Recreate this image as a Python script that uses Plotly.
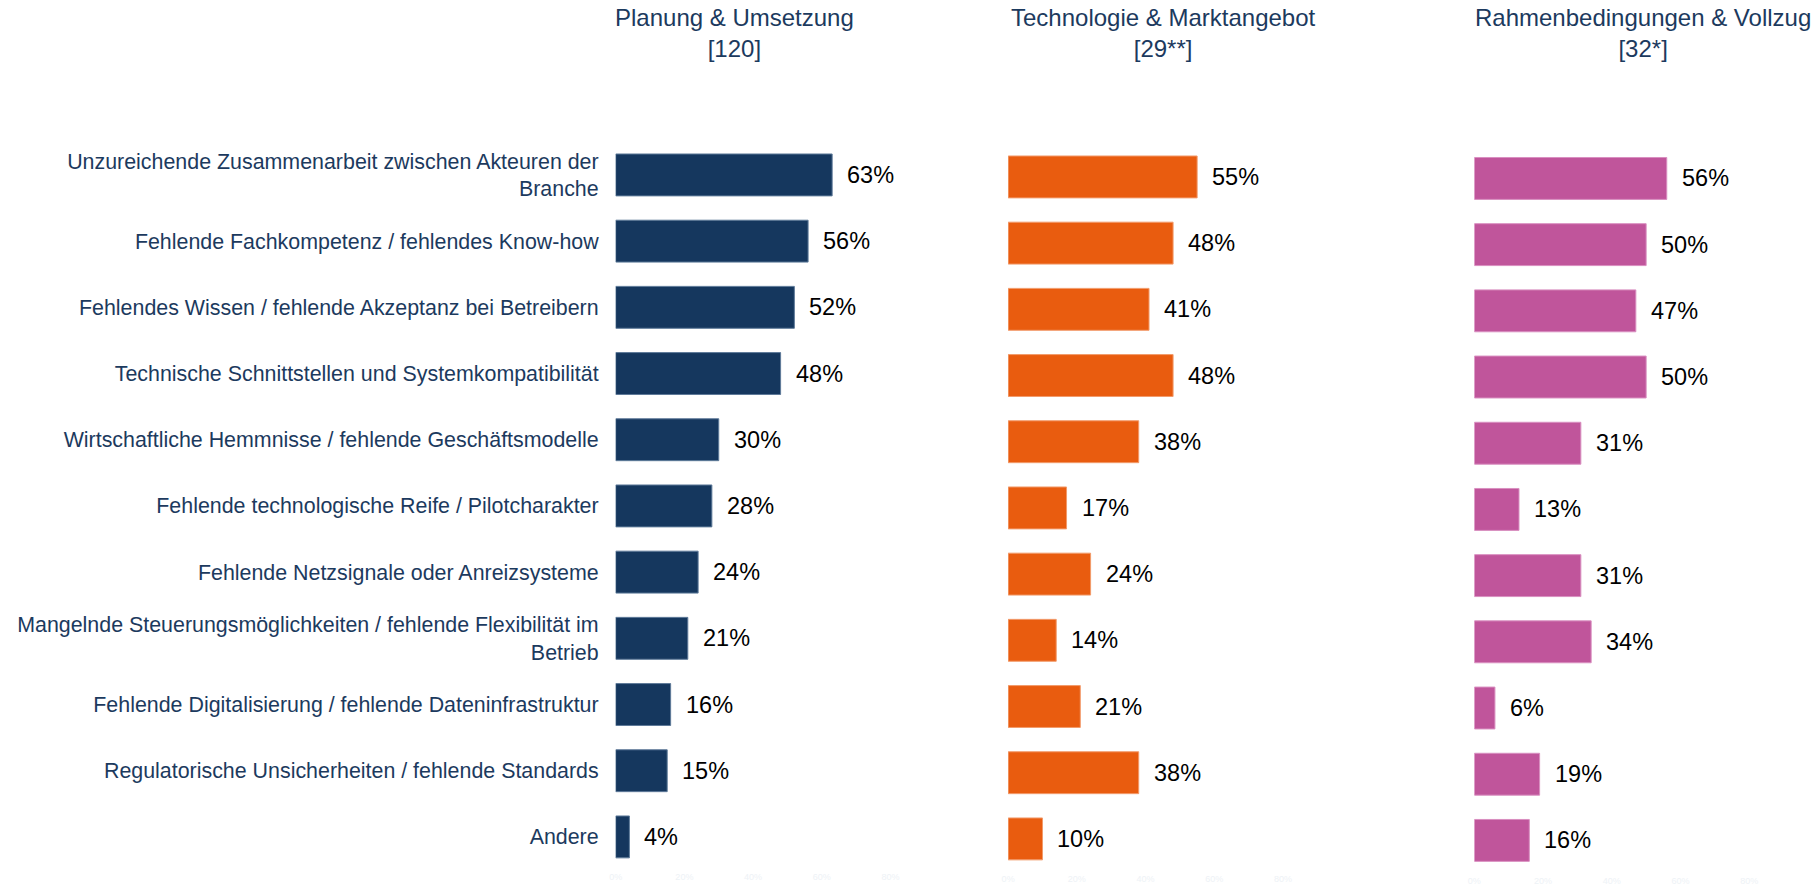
import plotly.graph_objects as go

categories = [
    "Unzureichende Zusammenarbeit zwischen Akteuren der<br>Branche",
    "Fehlende Fachkompetenz / fehlendes Know-how",
    "Fehlendes Wissen / fehlende Akzeptanz bei Betreibern",
    "Technische Schnittstellen und Systemkompatibilität",
    "Wirtschaftliche Hemmnisse / fehlende Geschäftsmodelle",
    "Fehlende technologische Reife / Pilotcharakter",
    "Fehlende Netzsignale oder Anreizsysteme",
    "Mangelnde Steuerungsmöglichkeiten / fehlende Flexibilität im<br>Betrieb",
    "Fehlende Digitalisierung / fehlende Dateninfrastruktur",
    "Regulatorische Unsicherheiten / fehlende Standards",
    "Andere",
]

panel_titles = [
    "Planung & Umsetzung<br>[120]",
    "Technologie & Marktangebot<br>[29**]",
    "Rahmenbedingungen & Vollzug<br>[32*]",
]

planung = [63, 56, 52, 48, 30, 28, 24, 21, 16, 15, 4]
technologie = [55, 48, 41, 48, 38, 17, 24, 14, 21, 38, 10]
rahmen = [56, 50, 47, 50, 31, 13, 31, 34, 6, 19, 16]

series = [planung, technologie, rahmen]
colors = ["#15375E", "#E95C0F", "#C0559B"]
edge_colors = ["#5E7A99", "#F29B6B", "#D98FC0"]
tick_vals = [0, 20, 40, 60, 80, 100]

W, H = 1813, 886
label_color = "#1C3A5E"
font_family = "Arial, Liberation Sans, sans-serif"

fig = go.Figure()

# pixel layout of each panel (x zero, x end, y top, y bottom)
x_px = [(611, 955), (1005, 1349), (1473, 1813)]
y_px = [(142, 871), (144, 873), (145.5, 874.5)]
px_per_pct = 3.45

title_x = [730, 1161, 1642]

for i, vals in enumerate(series):
    xa = "x" if i == 0 else f"x{i+1}"
    ya = "y" if i == 0 else f"y{i+1}"
    fig.add_trace(go.Bar(
        x=vals, y=categories, orientation="h",
        marker=dict(color=colors[i], line=dict(color=edge_colors[i], width=1)),
        width=0.633,
        xaxis=xa, yaxis=ya, showlegend=False, hoverinfo="skip",
    ))
    for c, v in zip(categories, vals):
        fig.add_annotation(
            x=v, y=c, xref=xa, yref=ya, text=f"{v}%",
            showarrow=False, xanchor="left", yanchor="middle", xshift=13,
            font=dict(size=23.5, color="#000000", family=font_family),
        )
    x0, x1 = x_px[i]
    y0, y1 = y_px[i]
    xmax = (x1 - x0) / px_per_pct
    xkey = "xaxis" if i == 0 else f"xaxis{i+1}"
    ykey = "yaxis" if i == 0 else f"yaxis{i+1}"
    fig.update_layout(**{
        xkey: dict(
            domain=[x0 / W, x1 / W], range=[0, xmax], anchor=ya,
            showgrid=False, zeroline=False, showline=False,
            tickvals=tick_vals, ticktext=[f"{t}%" for t in tick_vals],
            tickfont=dict(size=9, color="#EEF2F6", family=font_family),
            ticks="", fixedrange=True,
        ),
        ykey: dict(
            domain=[1 - y1 / H, 1 - y0 / H], anchor=xa,
            type="category", categoryorder="array", categoryarray=categories,
            range=[10.5, -0.5],
            showgrid=False, zeroline=False, showline=False,
            showticklabels=(i == 0), ticks="",
            ticklabelstandoff=16,
            tickfont=dict(size=21.4, color=label_color, family=font_family),
            fixedrange=True,
        ),
    })
    fig.add_annotation(
        x=title_x[i] / W, y=1 - 33.5 / H, xref="paper", yref="paper",
        text=panel_titles[i], showarrow=False, align="center",
        xanchor="center", yanchor="middle",
        font=dict(size=24, color=label_color, family=font_family),
    )

fig.update_layout(
    width=W, height=H,
    margin=dict(l=0, r=0, t=0, b=0),
    paper_bgcolor="white", plot_bgcolor="white",
    bargap=0.367,
    font=dict(family=font_family),
)

fig.write_html(
    "out.html",
    config={"displayModeBar": False, "staticPlot": True},
    post_script="document.body.style.margin='0';document.body.style.overflow='hidden';",
)
